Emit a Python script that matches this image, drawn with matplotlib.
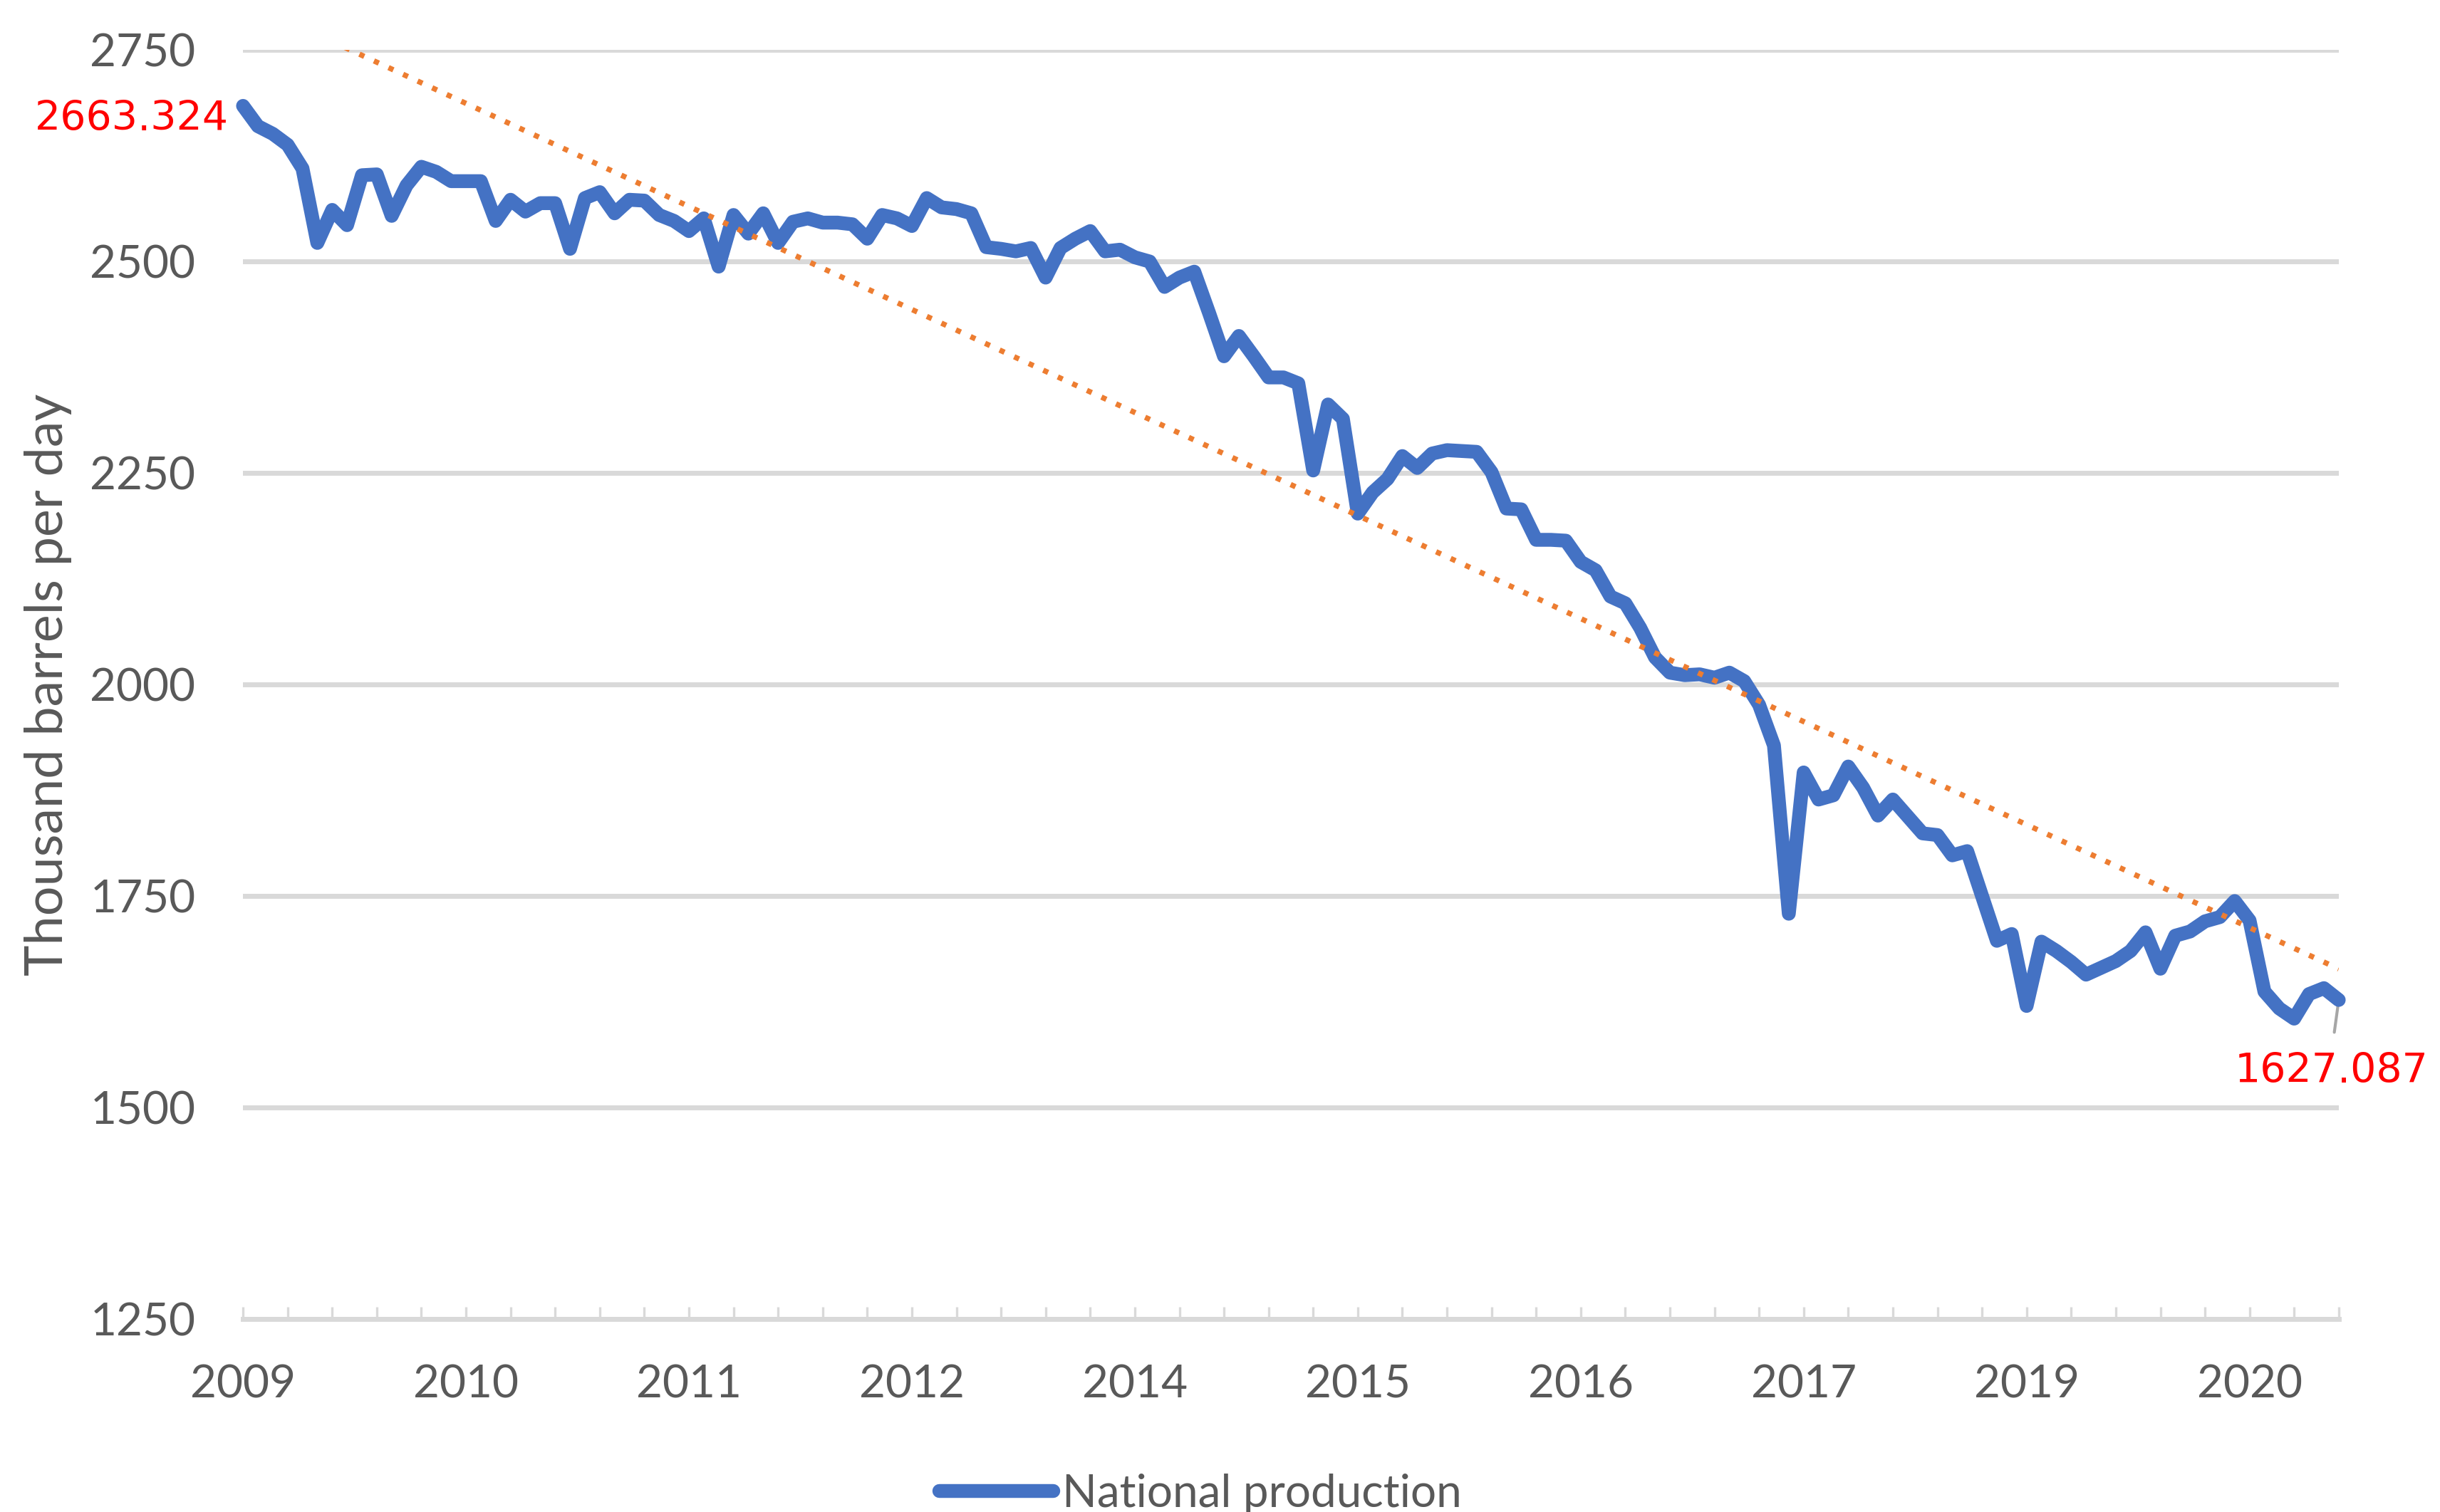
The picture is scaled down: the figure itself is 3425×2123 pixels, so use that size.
import numpy as np
import pandas as pd
import matplotlib
matplotlib.use("Agg")
import matplotlib.pyplot as plt

plt.rcParams["font.family"] = ["Lato", "DejaVu Sans"]

# monthly national crude production, Jan 2009 - Oct 2020 (thousand b/d)
months = pd.date_range("2009-01-01", periods=142, freq="MS")
production = [
    2684, 2660, 2651, 2638, 2610, 2522, 2561, 2543, 2602, 2603, 2554, 2590,
    2612, 2606, 2595, 2595, 2595, 2548, 2573, 2559, 2569, 2569, 2515, 2575,
    2582, 2557, 2573, 2572, 2555, 2548, 2536, 2551, 2494, 2555, 2533, 2557,
    2522, 2547, 2551, 2546, 2546, 2544, 2527, 2555, 2551, 2542, 2575, 2564,
    2562, 2557, 2517, 2515, 2512, 2516, 2481, 2516, 2527, 2536, 2512, 2514,
    2505, 2500, 2470, 2481, 2488, 2439, 2388, 2412, 2388, 2363, 2363, 2356,
    2253, 2331, 2314, 2202, 2227, 2243, 2270, 2256, 2273, 2277, 2276, 2275,
    2251, 2208, 2207, 2171, 2171, 2170, 2145, 2135, 2104, 2096, 2067, 2032,
    2014, 2011, 2012, 2008, 2014, 2004, 1976, 1928, 1729, 1896, 1864, 1869,
    1903, 1878, 1845, 1864, 1844, 1824, 1822, 1798, 1803, 1750, 1697, 1705,
    1620, 1696, 1685, 1672, 1657, 1665, 1673, 1685, 1707, 1664, 1703, 1708,
    1720, 1725, 1744, 1721, 1637, 1617, 1605, 1634, 1641, 1627.087,
]
first_label = "2663.324"
last_label = "1627.087"

grey = "#595959"
x = np.arange(len(production))

fig = plt.figure(figsize=(17.125, 10.615), dpi=200)
ax = fig.add_axes([0.0996, 0.1277, 0.8589, 0.8392])

ax.plot(x, production, color="#4472C4", lw=7, solid_joinstyle="round",
        solid_capstyle="round", label="National production", zorder=3, clip_on=False)

# linear trend
slope, intercept = np.polyfit(x, production, 1)
ax.plot(x, slope * x + intercept, color="#ED7D31", lw=2.7,
        linestyle=(0, (1, 2)), zorder=4)

ax.set_xlim(0, len(production) - 1)
ax.set_ylim(1250, 2750)
ax.set_yticks(np.arange(1250, 2751, 250))
ax.grid(axis="y", color="#D9D9D9", lw=2.5)
ax.set_axisbelow(True)
for s in ["top", "right", "left"]:
    ax.spines[s].set_visible(False)
ax.spines["bottom"].set_color("#D9D9D9")
ax.spines["bottom"].set_linewidth(2.5)

ticks = x[::3]
ax.set_xticks(ticks)
ax.set_xticklabels([str(months[i].year) if i % 15 == 0 else "" for i in ticks])
ax.tick_params(axis="x", direction="in", length=6, width=1.2, color="#D9D9D9",
               pad=23, labelsize=23, labelcolor=grey)
ax.tick_params(axis="y", length=0, pad=24, labelsize=23, labelcolor=grey)

fig.text(0.0196, 1 - 961 / 2123, "Thousand barrels per day", rotation=90,
         ha="center", va="center", fontsize=26.5, color=grey)

ax.annotate(first_label, xy=(0, production[0]), xytext=(-20, -34),
            textcoords="offset pixels", ha="right", va="baseline",
            color="red", fontsize=20.5, family="DejaVu Sans")
ax.annotate(last_label, xy=(x[-1], production[-1]), xytext=(-10, -116),
            textcoords="offset pixels", ha="center", va="baseline",
            color="red", fontsize=20.5, family="DejaVu Sans", zorder=2,
            arrowprops=dict(arrowstyle="-", color="#A6A6A6", lw=1.5,
                            relpos=(0.5, 1), shrinkA=8, shrinkB=0))

ax.legend(loc="center", bbox_to_anchor=(0.492, 0.012), bbox_transform=fig.transFigure,
          frameon=False, fontsize=23, handlelength=2.5, handletextpad=0.2,
          labelcolor=grey, borderpad=0)

fig.savefig("out.png", dpi=200)
